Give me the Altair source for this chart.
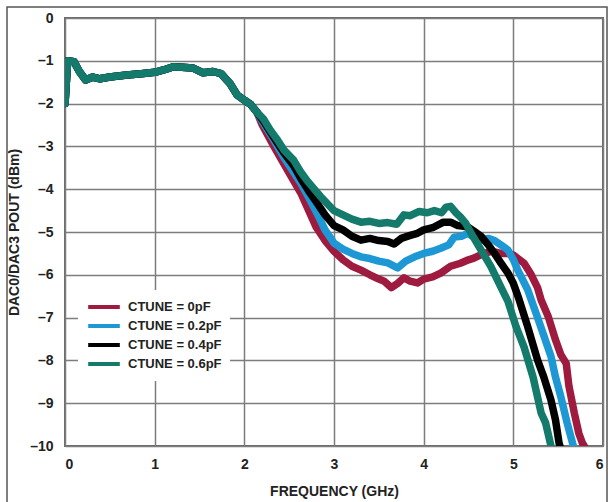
import altair as alt
import pandas as pd

series_names = ["CTUNE = 0pF", "CTUNE = 0.2pF", "CTUNE = 0.4pF", "CTUNE = 0.6pF"]
series_colors = ["#9e1b3f", "#1e98d4", "#000000", "#137a6c"]

# common start (0 - 2.14 GHz)
base_f = [0.0, 0.03, 0.1, 0.16, 0.23, 0.31, 0.39, 0.5, 0.69, 0.85, 1.0, 1.12, 1.21, 1.3,
          1.43, 1.54, 1.65, 1.74, 1.84, 1.92, 2.0, 2.07, 2.14]
base_v = [-2.0, -1.0, -1.02, -1.25, -1.45, -1.38, -1.42, -1.38, -1.33, -1.3, -1.27, -1.2,
          -1.14, -1.15, -1.17, -1.28, -1.25, -1.3, -1.53, -1.8, -1.92, -2.02, -2.2]

red_f = [2.2, 2.33, 2.48, 2.63, 2.74, 2.8, 2.9, 3.0, 3.1, 3.2, 3.3, 3.4, 3.5, 3.56, 3.64,
         3.71, 3.78, 3.85, 3.93, 4.0, 4.1, 4.19, 4.3, 4.41, 4.5, 4.56, 4.67, 4.76, 4.86,
         4.94, 5.0, 5.12, 5.2, 5.27, 5.31, 5.39, 5.47, 5.53, 5.59, 5.62, 5.68, 5.73, 5.77, 5.79]
red_v = [-2.5, -3.0, -3.55, -4.09, -4.6, -4.88, -5.2, -5.45, -5.65, -5.8, -5.89, -6.0, -6.1,
         -6.15, -6.3, -6.2, -6.07, -6.15, -6.19, -6.1, -6.05, -5.96, -5.8, -5.73, -5.65,
         -5.61, -5.5, -5.45, -5.5, -5.5, -5.54, -5.73, -6.0, -6.3, -6.59, -6.98, -7.52,
         -7.87, -8.07, -8.6, -9.23, -9.7, -9.93, -10.0]

blue_f = [2.21, 2.3, 2.44, 2.55, 2.63, 2.72, 2.81, 2.9, 3.0, 3.1, 3.2, 3.3, 3.4, 3.5, 3.6,
          3.71, 3.8, 3.9, 4.0, 4.1, 4.19, 4.28, 4.34, 4.42, 4.49, 4.56, 4.64, 4.72, 4.79,
          4.86, 4.94, 5.0, 5.05, 5.16, 5.27, 5.33, 5.42, 5.47, 5.53, 5.6, 5.66, 5.67]
blue_v = [-2.45, -2.75, -3.25, -3.6, -3.86, -4.2, -4.56, -4.95, -5.26, -5.4, -5.5, -5.58,
          -5.62, -5.68, -5.72, -5.84, -5.68, -5.58, -5.5, -5.45, -5.38, -5.3, -5.12, -5.1,
          -5.03, -5.12, -5.19, -5.15, -5.2, -5.3, -5.42, -5.65, -5.89, -6.35, -7.0, -7.36,
          -7.91, -8.39, -8.85, -9.46, -9.93, -10.0]

black_f = [2.21, 2.3, 2.44, 2.55, 2.63, 2.72, 2.81, 2.9, 3.0, 3.1, 3.2, 3.3, 3.4, 3.5, 3.6,
           3.67, 3.75, 3.85, 3.93, 4.0, 4.1, 4.22, 4.3, 4.38, 4.49, 4.56, 4.64, 4.72, 4.79,
           4.86, 4.94, 5.0, 5.06, 5.16, 5.27, 5.34, 5.42, 5.47, 5.51, 5.52]
black_v = [-2.4, -2.7, -3.15, -3.45, -3.75, -4.05, -4.32, -4.6, -4.85, -4.95, -5.1, -5.19,
           -5.15, -5.2, -5.22, -5.28, -5.15, -5.08, -5.03, -4.95, -4.9, -4.77, -4.77, -4.85,
           -4.88, -4.98, -5.1, -5.3, -5.5, -5.72, -5.96, -6.2, -6.55, -7.21, -7.99, -8.39,
           -8.93, -9.39, -9.93, -10.0]

teal_f = [2.21, 2.29, 2.37, 2.44, 2.55, 2.63, 2.7, 2.78, 2.85, 2.93, 3.0, 3.1, 3.2, 3.3,
          3.4, 3.5, 3.6, 3.7, 3.78, 3.85, 3.95, 4.04, 4.12, 4.2, 4.25, 4.3, 4.36, 4.41, 4.47,
          4.53, 4.64, 4.75, 4.86, 4.94, 5.03, 5.12, 5.22, 5.31, 5.36, 5.42]
teal_v = [-2.35, -2.62, -2.85, -3.08, -3.32, -3.6, -3.8, -4.0, -4.17, -4.35, -4.5, -4.6,
          -4.7, -4.77, -4.75, -4.8, -4.78, -4.82, -4.6, -4.62, -4.52, -4.55, -4.5, -4.55,
          -4.42, -4.4, -4.55, -4.65, -4.8, -5.03, -5.42, -5.81, -6.28, -6.62, -7.21, -7.69,
          -8.39, -9.23, -9.46, -10.0]

tails = [(red_f, red_v), (blue_f, blue_v), (black_f, black_v), (teal_f, teal_v)]

rows = []
for name, (tf, tv) in zip(series_names, tails):
    fs = base_f + tf
    vs = base_v + tv
    for i, (f, v) in enumerate(zip(fs, vs)):
        rows.append({"series": name, "f": f, "v": v, "i": i})
df = pd.DataFrame(rows)

FONT = "Liberation Sans"
grid_color = "#7d7d7d"

lines = alt.Chart(df).mark_line(strokeWidth=7.5, clip=True, strokeJoin="round", strokeCap="round").encode(
    x=alt.X("f:Q", scale=alt.Scale(domain=[0, 6], nice=False),
            axis=alt.Axis(title="FREQUENCY (GHz)", values=[0, 1, 2, 3, 4, 5, 6],
                          grid=True, ticks=False, domain=False, labelPadding=11,
                          titlePadding=13)),
    y=alt.Y("v:Q", scale=alt.Scale(domain=[-10, 0], nice=False),
            axis=alt.Axis(title="DAC0/DAC3 POUT (dBm)", values=list(range(-10, 1)),
                          grid=True, ticks=False, domain=False, labelPadding=12,
                          titlePadding=8,
                          labelExpr="datum.value < 0 ? '–' + abs(datum.value) : datum.label")),
    color=alt.Color("series:N", scale=alt.Scale(domain=series_names, range=series_colors),
                    legend=alt.Legend(title=None, orient="none", legendX=13, legendY=272,
                                      symbolType="stroke", symbolSize=1000,
                                      symbolStrokeWidth=4, fillColor="white",
                                      padding=8, rowPadding=1, clipHeight=18,
                                      labelOffset=6)),
    order="i:Q",
    detail="series:N",
)

frame = alt.Chart(pd.DataFrame({"k": [0]})).mark_rect(
    fill=None, stroke="#555555", strokeWidth=1.5, clip=False
).encode(x=alt.value(-58), x2=alt.value(542), y=alt.value(-11), y2=alt.value(500))

chart = alt.layer(lines, frame).properties(
    width=538, height=428,
    autosize=alt.AutoSizeParams(type="none"),
    padding={"left": 65, "top": 18, "right": 5, "bottom": 56},
).configure_view(
    stroke="#6a6a6a", strokeWidth=2
).configure_axis(
    labelFont=FONT, titleFont=FONT, labelFontWeight="bold", titleFontWeight="bold",
    labelFontSize=14, titleFontSize=14, labelColor="#222", titleColor="#222",
    gridColor=grid_color, gridWidth=1.5, gridOpacity=1
).configure_legend(
    labelFont=FONT, labelFontWeight="bold", labelFontSize=13, labelColor="#222"
)

chart.save("out.html", embed_options={"renderer": "svg", "actions": False})
